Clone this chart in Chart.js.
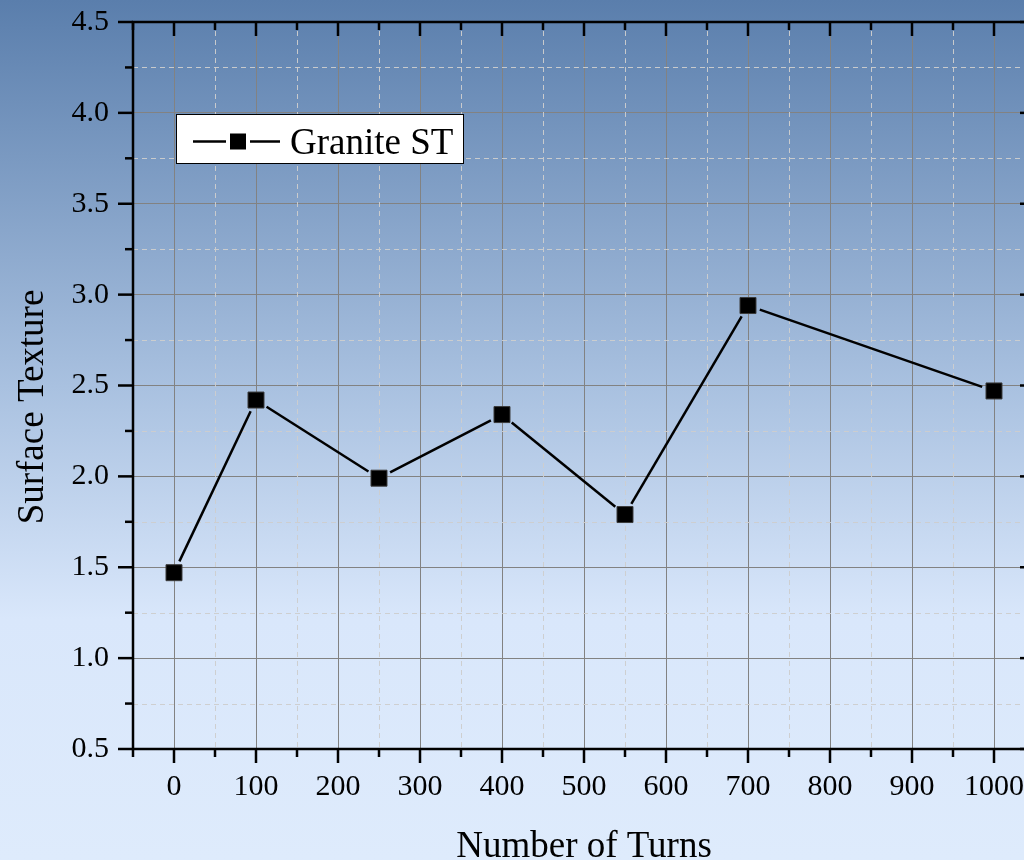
<!DOCTYPE html>
<html>
<head>
<meta charset="utf-8">
<script src="https://cdn.jsdelivr.net/npm/chart.js@4"></script>
<style>
  html, body {
    margin: 0;
    padding: 0;
    width: 1024px;
    height: 860px;
    overflow: hidden;
    background: linear-gradient(to bottom, #5a7eac 0%, #a9c1e0 45%, #d9e7fb 72%, #deebfc 100%);
  }
  canvas { display: block; }
</style>
</head>
<body>
<canvas id="myChart" width="1050" height="860"></canvas>
<script>
const turns = [0, 100, 250, 400, 550, 700, 1000];
const surfaceTexture = [1.47, 2.42, 1.99, 2.34, 1.79, 2.94, 2.47];
const xTicks = [0, 100, 200, 300, 400, 500, 600, 700, 800, 900, 1000];
const yTicks = [0.5, 1.0, 1.5, 2.0, 2.5, 3.0, 3.5, 4.0, 4.5];
const seriesLabel = "Granite ST";
const xTitle = "Number of Turns";
const yTitle = "Surface Texture";

const FONT = "'Liberation Serif', 'Times New Roman', serif";

// axes frame, ticks, minor grid, gapped line, legend and titles
const frame = {
  id: "frame",
  beforeDatasetsDraw(chart) {
    const { ctx, chartArea: a, scales: { x, y } } = chart;
    ctx.save();
    // minor dashed grid
    ctx.strokeStyle = "rgba(205,205,205,0.95)";
    ctx.lineWidth = 1;
    ctx.setLineDash([5, 4]);
    for (let v = 50; v < 1050; v += 100) {
      const px = Math.round(x.getPixelForValue(v)) + 0.5;
      ctx.beginPath();
      ctx.moveTo(px, a.top);
      ctx.lineTo(px, a.bottom);
      ctx.stroke();
    }
    for (let v = 0.75; v < 4.5; v += 0.5) {
      const py = Math.round(y.getPixelForValue(v)) + 0.5;
      ctx.beginPath();
      ctx.moveTo(a.left, py);
      ctx.lineTo(a.right, py);
      ctx.stroke();
    }
    ctx.setLineDash([]);

    // connecting line, stopped short of each marker
    const pts = chart.getDatasetMeta(0).data;
    const gap = 12.5;
    ctx.strokeStyle = "#000";
    ctx.lineWidth = 2.5;
    for (let i = 0; i < pts.length - 1; i++) {
      const p0 = pts[i], p1 = pts[i + 1];
      const dx = p1.x - p0.x, dy = p1.y - p0.y;
      const len = Math.hypot(dx, dy);
      const ux = dx / len, uy = dy / len;
      ctx.beginPath();
      ctx.moveTo(p0.x + ux * gap, p0.y + uy * gap);
      ctx.lineTo(p1.x - ux * gap, p1.y - uy * gap);
      ctx.stroke();
    }
    ctx.restore();
  },
  afterDraw(chart) {
    const { ctx, chartArea: a, scales: { x, y } } = chart;
    ctx.save();
    ctx.strokeStyle = "#000";
    ctx.lineWidth = 2.5;
    ctx.lineCap = "square";
    ctx.beginPath();
    ctx.rect(a.left, a.top, a.right - a.left, a.bottom - a.top);
    ctx.stroke();
    ctx.lineCap = "butt";

    const line = (x0, y0, x1, y1) => {
      ctx.beginPath();
      ctx.moveTo(x0, y0);
      ctx.lineTo(x1, y1);
      ctx.stroke();
    };
    // x ticks: bottom outward, top inward
    for (let v = -50; v <= 1050; v += 50) {
      const px = x.getPixelForValue(v);
      const major = v % 100 === 0;
      const len = major ? 14 : 8;
      line(px, a.bottom, px, a.bottom + len);
      line(px, a.top, px, a.top + len);
    }
    // y ticks: left outward, right inward
    for (let v = 0.5; v <= 4.5001; v += 0.25) {
      const py = y.getPixelForValue(v);
      const major = Math.abs(v * 2 - Math.round(v * 2)) < 1e-6;
      const len = major ? 15 : 8;
      line(a.left - len, py, a.left, py);
      line(a.right - len, py, a.right, py);
    }

    // axis titles
    ctx.fillStyle = "#000";
    ctx.font = "37px " + FONT;
    ctx.textAlign = "center";
    ctx.textBaseline = "alphabetic";
    ctx.fillText(xTitle, (a.left + a.right) / 2, 857);
    ctx.save();
    ctx.translate(43, 407);
    ctx.rotate(-Math.PI / 2);
    ctx.fillText(yTitle, 0, 0);
    ctx.restore();

    // legend
    ctx.fillStyle = "#fff";
    ctx.fillRect(176, 114, 287, 49);
    ctx.lineWidth = 1;
    ctx.strokeRect(176.5, 114.5, 287, 49);
    ctx.lineWidth = 2.5;
    line(193, 141.5, 226, 141.5);
    line(250, 141.5, 280, 141.5);
    ctx.fillStyle = "#000";
    ctx.fillRect(230, 133.5, 16, 16);
    ctx.textAlign = "left";
    ctx.font = "37px " + FONT;
    ctx.fillText(seriesLabel, 290, 154);
    ctx.restore();
  },
};

const ctx = document.getElementById("myChart").getContext("2d");
const myChart = new Chart(ctx, {
  type: "scatter",
  data: {
    datasets: [
      {
        label: seriesLabel,
        data: turns.map((t, i) => ({ x: t, y: surfaceTexture[i] })),
        showLine: false,
        pointStyle: "rect",
        pointRadius: 11.3,
        pointHoverRadius: 11.3,
        backgroundColor: "#000",
        borderColor: "#3a3a3a",
        borderWidth: 1,
      },
    ],
  },
  options: {
    responsive: false,
    animation: false,
    devicePixelRatio: 1,
    layout: { padding: { top: 22, right: 15, left: 0, bottom: 0 } },
    plugins: {
      legend: { display: false },
      tooltip: { enabled: false },
    },
    scales: {
      x: {
        type: "linear",
        min: -50,
        max: 1050,
        afterBuildTicks: (s) => { s.ticks = xTicks.map((v) => ({ value: v })); },
        afterFit: (s) => { s.height = 111; s.paddingLeft = 0; s.paddingRight = 0; },
        grid: { color: "#828282", lineWidth: 1, drawTicks: false },
        border: { display: false },
        ticks: {
          color: "#000",
          font: { family: FONT, size: 30 },
          padding: 20,
          maxRotation: 0,
          autoSkip: false,
          callback: (v) => String(v),
        },
      },
      y: {
        type: "linear",
        min: 0.5,
        max: 4.5,
        afterBuildTicks: (s) => { s.ticks = yTicks.map((v) => ({ value: v })); },
        afterFit: (s) => { s.width = 133; s.paddingTop = 0; s.paddingBottom = 0; },
        grid: { color: "#828282", lineWidth: 1, drawTicks: false },
        border: { display: false },
        ticks: {
          color: "#000",
          font: { family: FONT, size: 30 },
          padding: 24,
          callback: (v) => v.toFixed(1),
        },
      },
    },
  },
  plugins: [frame],
});
</script>
</body>
</html>
